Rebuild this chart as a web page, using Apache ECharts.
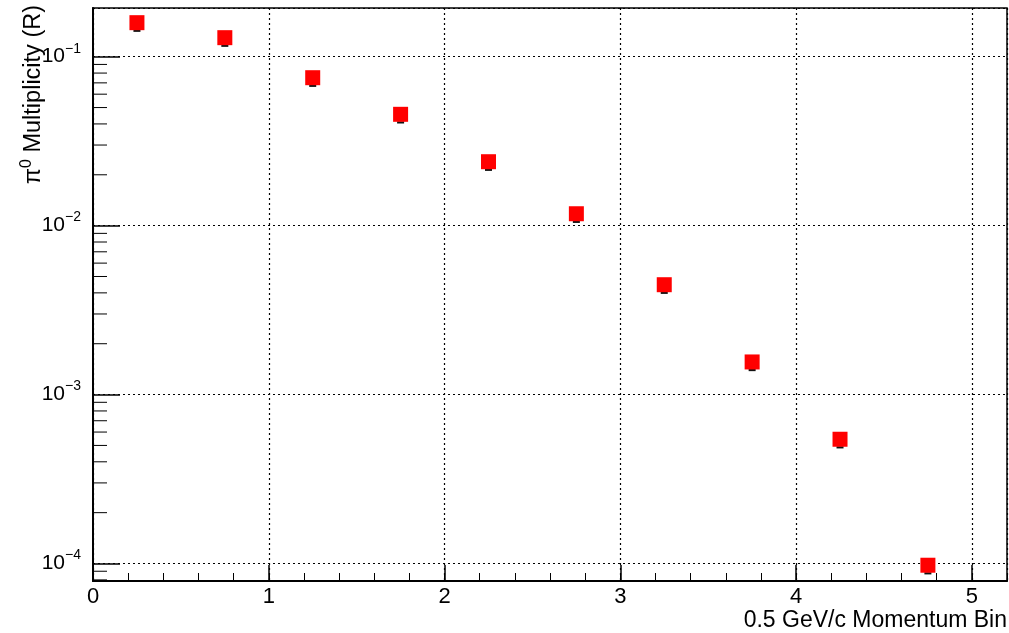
<!DOCTYPE html>
<html>
<head>
<meta charset="utf-8">
<script src="https://cdn.jsdelivr.net/npm/echarts@6/dist/echarts.min.js"></script>
<style>
  html, body { margin: 0; padding: 0; background: #fff; }
  #chart { width: 1009px; height: 633px; }
</style>
</head>
<body>
<div id="chart"></div>
<script>
// Momentum bin centres (in units of 0.5 GeV/c) and the pi0 multiplicity ratio
const binCenters = [0.25, 0.75, 1.25, 1.75, 2.25, 2.75, 3.25, 3.75, 4.25, 4.75];
const multiplicity = [0.159, 0.1296, 0.0751, 0.0456, 0.0239, 0.01176, 0.00447, 0.00156, 0.000544, 0.0000977];

// Axis ranges and tick labels
const xRange = [0, 5.2];
const yRange = [7.88e-5, 0.1942];
const xTickLabels = ['0', '1', '2', '3', '4', '5'];
const yDecades = [-4, -3, -2, -1];

const FONT = "'Liberation Sans', Arial, Helvetica, sans-serif";

// Minor log ticks at 2..9 x 10^k inside the y range
const yMinorTicks = [];
for (let k = -5; k <= -1; k++) {
  for (let m = 2; m <= 9; m++) {
    const v = m * Math.pow(10, k);
    if (v > yRange[0] && v < yRange[1]) yMinorTicks.push([0, v]);
  }
}

const points = binCenters.map((x, i) => [x, multiplicity[i]]);

const chart = echarts.init(document.getElementById('chart'), null, { renderer: 'canvas' });

const dotted = { color: '#000', width: 1.2, type: [2, 3] };

chart.setOption({
  animation: false,
  backgroundColor: '#fff',
  grid: {
    left: 93, right: 2, top: 8, bottom: 52,
    show: true, borderColor: '#000', borderWidth: 1.5, backgroundColor: 'transparent'
  },
  xAxis: [
    {
      type: 'value', min: xRange[0], max: xRange[1], interval: 1,
      axisLine: { show: true, onZero: false, lineStyle: { color: '#000', width: 2 } },
      axisTick: { show: true, inside: true, length: 16, lineStyle: { color: '#000', width: 1.5 } },
      axisLabel: {
        show: true, margin: 5, color: '#000', fontFamily: FONT, fontSize: 22,
        showMaxLabel: false,
        formatter: v => {
          const i = Math.round(v);
          return Math.abs(v - i) < 1e-6 && xTickLabels[i] !== undefined ? xTickLabels[i] : '';
        }
      },
      splitLine: { show: true, lineStyle: dotted }
    },
    {
      // minor ticks every 0.2
      type: 'value', min: xRange[0], max: xRange[1], interval: 0.2, position: 'bottom',
      axisLine: { show: false },
      axisTick: { show: true, inside: true, length: 8, lineStyle: { color: '#000', width: 1 } },
      axisLabel: { show: false },
      splitLine: { show: false }
    }
  ],
  yAxis: {
    type: 'log', logBase: 10, min: yRange[0], max: yRange[1],
    axisLine: { show: true, onZero: false, lineStyle: { color: '#000', width: 2 } },
    axisTick: { show: true, inside: true, length: 27, lineStyle: { color: '#000', width: 1.5 } },
    axisLabel: {
      show: true, margin: 12, color: '#000', fontFamily: FONT,
      showMinLabel: false, showMaxLabel: false,
      formatter: v => {
        const e = Math.round(Math.log10(v));
        if (Math.abs(Math.log10(v) - e) > 1e-6 || yDecades.indexOf(e) < 0) return '';
        return '{b|10}{s|' + (e < 0 ? '\u2212' + (-e) : e) + '}';
      },
      rich: {
        b: { fontFamily: FONT, fontSize: 21, lineHeight: 30, color: '#000' },
        s: { fontFamily: FONT, fontSize: 14, lineHeight: 30, verticalAlign: 'top', color: '#000' }
      }
    },
    splitLine: { show: true, lineStyle: dotted }
  },
  graphic: [
    {
      type: 'text', x: 34, y: 5, rotation: Math.PI / 2,
      style: {
        text: '{p|\u03c0}{s|0}{p| Multiplicity (R)}',
        align: 'right', verticalAlign: 'middle',
        rich: {
          p: { fontFamily: FONT, fontSize: 23.5, lineHeight: 30, fill: '#000' },
          s: { fontFamily: FONT, fontSize: 16, lineHeight: 30, verticalAlign: 'top', fill: '#000' }
        }
      }
    },
    {
      type: 'text', x: 1007, y: 621,
      style: {
        text: '0.5 GeV/c Momentum Bin', align: 'right', verticalAlign: 'middle',
        fontFamily: FONT, fontSize: 23, fill: '#000'
      }
    }
  ],
  series: [
    {
      name: 'minorY', type: 'custom', xAxisIndex: 0, yAxisIndex: 0, clip: false, silent: true,
      data: yMinorTicks,
      renderItem: (params, api) => {
        const p = api.coord([api.value(0), api.value(1)]);
        return {
          type: 'line',
          shape: { x1: p[0], y1: p[1], x2: p[0] + 14, y2: p[1] },
          style: { stroke: '#000', lineWidth: 1 }
        };
      }
    },
    {
      name: 'pi0', type: 'custom', xAxisIndex: 0, yAxisIndex: 0, clip: false, z: 5,
      data: points,
      renderItem: (params, api) => {
        const p = api.coord([api.value(0), api.value(1)]);
        return {
          type: 'group',
          children: [
            { type: 'rect', shape: { x: p[0] - 3.5, y: p[1] + 7, width: 7, height: 2.2 }, style: { fill: '#111' } },
            { type: 'rect', shape: { x: p[0] - 7.5, y: p[1] - 7.5, width: 15, height: 15 }, style: { fill: '#ff0000' } }
          ]
        };
      }
    }
  ]
});
</script>
</body>
</html>
